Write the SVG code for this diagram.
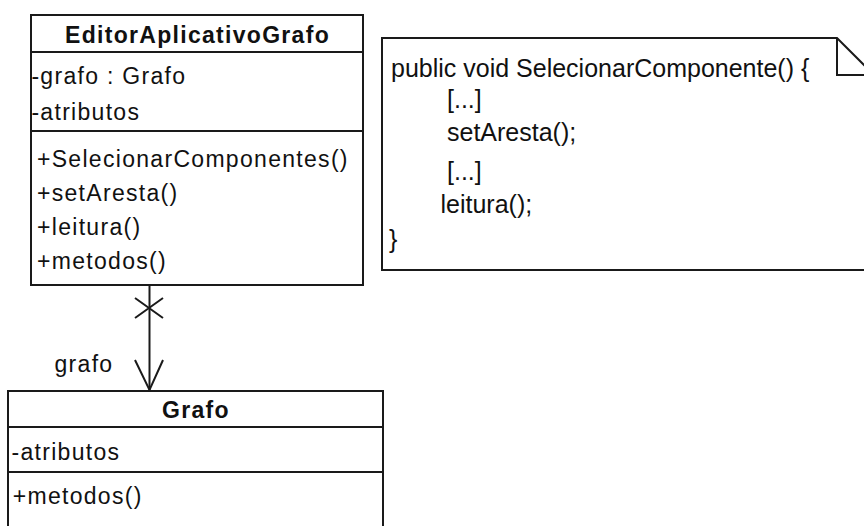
<svg xmlns="http://www.w3.org/2000/svg" width="864" height="526" viewBox="0 0 864 526">
  <style>
    .box { fill: #ffffff; stroke: #1a1a1a; stroke-width: 2; }
    .sep { stroke: #1a1a1a; stroke-width: 2; fill: none; }
    .cls { font-family: "Liberation Sans", Arial, sans-serif; font-size: 23px; letter-spacing: 1.3px; fill: #111111; }
    .title { font-weight: bold; text-anchor: middle; }
    .code { font-family: "Liberation Sans", Arial, sans-serif; font-size: 25px; fill: #111111; }
    .edge { stroke: #1a1a1a; stroke-width: 2; fill: none; }
  </style>
  <rect x="0" y="0" width="864" height="526" fill="#ffffff"/>

  <!-- class EditorAplicativoGrafo -->
  <g id="editor-aplicativo-grafo">
    <rect class="box" x="31" y="15" width="332" height="270"/>
    <line class="sep" x1="31" y1="52" x2="363" y2="52"/>
    <line class="sep" x1="31" y1="131" x2="363" y2="131"/>
    <text class="cls title" x="197.5" y="43">EditorAplicativoGrafo</text>
    <text class="cls" x="31.4" y="84">-grafo : Grafo</text>
    <text class="cls" x="31.4" y="120">-atributos</text>
    <text class="cls" x="37" y="167">+SelecionarComponentes()</text>
    <text class="cls" x="37" y="201">+setAresta()</text>
    <text class="cls" x="37" y="235">+leitura()</text>
    <text class="cls" x="37" y="269">+metodos()</text>
  </g>

  <!-- note with the method body -->
  <g id="note-selecionar-componente">
    <path class="box" d="M382,38 H837 L880,81 V270 H382 Z"/>
    <path class="sep" d="M837,38 V75 H880"/>
    <text class="code" x="391" y="77">public void SelecionarComponente() {</text>
    <text class="code" x="447" y="108">[...]</text>
    <text class="code" x="447" y="141">setAresta();</text>
    <text class="code" x="447" y="180">[...]</text>
    <text class="code" x="440.5" y="213">leitura();</text>
    <text class="code" x="389" y="248">}</text>
  </g>

  <!-- class Grafo -->
  <g id="grafo">
    <rect class="box" x="8" y="391" width="375" height="150"/>
    <line class="sep" x1="8" y1="427" x2="383" y2="427"/>
    <line class="sep" x1="8" y1="472" x2="383" y2="472"/>
    <text class="cls title" x="196" y="418">Grafo</text>
    <text class="cls" x="11.5" y="460">-atributos</text>
    <text class="cls" x="12.7" y="504">+metodos()</text>
  </g>

  <!-- directed association, non-navigable at the source end -->
  <g id="connectors">
    <line class="edge" x1="149.5" y1="285" x2="149.5" y2="390"/>
    <path class="edge" d="M135,298 L163,318 M135,318 L163,298"/>
    <path class="edge" d="M135,360 L149.5,390 L163,360"/>
    <text class="cls" x="54.5" y="372">grafo</text>
  </g>
</svg>
